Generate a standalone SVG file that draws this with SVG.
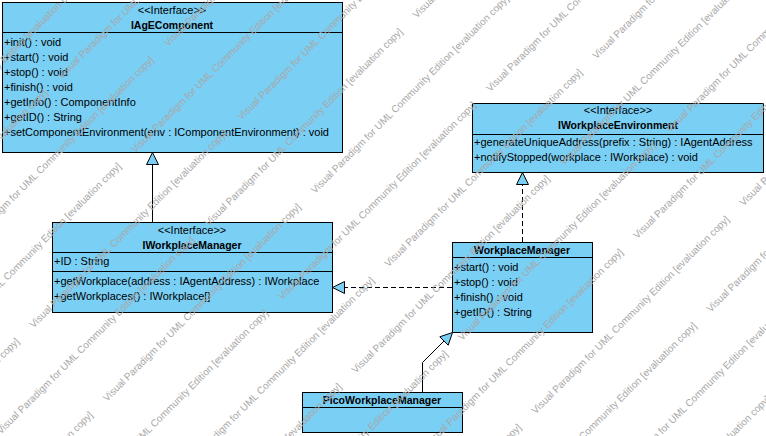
<svg xmlns="http://www.w3.org/2000/svg" width="766" height="436" viewBox="0 0 766 436">
<defs>
<style>
.box{fill:#7ACFF5;stroke:#000;stroke-width:1}
.sep{stroke:#000;stroke-width:1}
.t{font-family:"Liberation Sans",Arial,sans-serif;font-size:11px;fill:#000}
.b{font-weight:bold;font-size:10.5px}
.c{text-anchor:middle}
.edge{stroke:#000;stroke-width:1;fill:none}
.dash{stroke-dasharray:5,3}
.head{fill:#7ACFF5;stroke:#000;stroke-width:1}
.wm{font-family:"Liberation Sans",Arial,sans-serif;font-size:10px;fill:#a8a8a8}
</style>
</defs>
<rect width="766" height="436" fill="#fff"/>

<g id="IAgEComponent">
<rect class="box" x="2.5" y="2.5" width="340" height="150"/>
<line class="sep" x1="2.5" y1="32.5" x2="342.5" y2="32.5"/>
<text class="t c" x="172" y="14">&lt;&lt;Interface&gt;&gt;</text>
<text class="t b c" x="172" y="29">IAgEComponent</text>
<text class="t" x="4" y="46">+init() : void</text>
<text class="t" x="4" y="61">+start() : void</text>
<text class="t" x="4" y="76">+stop() : void</text>
<text class="t" x="4" y="91">+finish() : void</text>
<text class="t" x="4" y="106">+getInfo() : ComponentInfo</text>
<text class="t" x="4" y="121">+getID() : String</text>
<text class="t" x="4" y="136">+setComponentEnvironment(env : IComponentEnvironment) : void</text>
</g>

<g id="IWorkplaceEnvironment">
<rect class="box" x="472.5" y="103.5" width="291" height="69"/>
<line class="sep" x1="472.5" y1="134.5" x2="763.5" y2="134.5"/>
<text class="t c" x="618" y="114">&lt;&lt;Interface&gt;&gt;</text>
<text class="t b c" x="618" y="129">IWorkplaceEnvironment</text>
<text class="t" x="474" y="146">+generateUniqueAddress(prefix : String) : IAgentAddress</text>
<text class="t" x="474" y="161">+notifyStopped(workplace : IWorkplace) : void</text>
</g>

<g id="IWorkplaceManager">
<rect class="box" x="52.5" y="222.5" width="280" height="90"/>
<line class="sep" x1="52.5" y1="252.5" x2="332.5" y2="252.5"/>
<line class="sep" x1="52.5" y1="271.5" x2="332.5" y2="271.5"/>
<text class="t c" x="192" y="234">&lt;&lt;Interface&gt;&gt;</text>
<text class="t b c" x="192" y="249">IWorkplaceManager</text>
<text class="t" x="54" y="265">+ID : String</text>
<text class="t" x="54" y="285">+getWorkplace(address : IAgentAddress) : IWorkplace</text>
<text class="t" x="54" y="300">+getWorkplaces() : IWorkplace[]</text>
</g>

<g id="WorkplaceManager">
<rect class="box" x="452.5" y="242.5" width="140" height="90"/>
<line class="sep" x1="452.5" y1="257.5" x2="592.5" y2="257.5"/>
<text class="t b c" x="522" y="254">WorkplaceManager</text>
<text class="t" x="454" y="271">+start() : void</text>
<text class="t" x="454" y="286">+stop() : void</text>
<text class="t" x="454" y="301">+finish() : void</text>
<text class="t" x="454" y="316">+getID() : String</text>
</g>

<g id="PicoWorkplaceManager">
<rect class="box" x="302.5" y="392.5" width="160" height="40"/>
<line class="sep" x1="302.5" y1="407.5" x2="462.5" y2="407.5"/>
<text class="t b c" x="382" y="404">PicoWorkplaceManager</text>
</g>

<g id="connectors">
<line class="edge" x1="152.5" y1="222" x2="152.5" y2="164.5"/>
<polygon class="head" points="152.5,152.5 146.5,164.5 158.5,164.5"/>
<line class="edge dash" x1="522.5" y1="242" x2="522.5" y2="184.5"/>
<polygon class="head" points="522.5,172.5 516.5,184.5 528.5,184.5"/>
<line class="edge dash" x1="452" y1="287.5" x2="344.5" y2="287.5"/>
<polygon class="head" points="332.5,287.5 344.5,281.5 344.5,293.5"/>
<polyline class="edge" points="422.5,392 422.5,362.5 444,341"/>
<polygon class="head" points="452.5,332.5 439.8,336.8 448.2,345.2"/>
</g>

<g id="watermark" class="wm">
<text transform="translate(-113.5,181.5) rotate(-45)">Visual Paradigm for UML Community Edition [evaluation copy]</text>
<text transform="translate(-146.25,287.75) rotate(-45)">Visual Paradigm for UML Community Edition [evaluation copy]</text>
<text transform="translate(61.75,79.75) rotate(-45)">Visual Paradigm for UML Community Edition [evaluation copy]</text>
<text transform="translate(168,47) rotate(-45)">Visual Paradigm for UML Community Edition [evaluation copy]</text>
<text transform="translate(-40,255) rotate(-45)">Visual Paradigm for UML Community Edition [evaluation copy]</text>
<text transform="translate(135.25,153.25) rotate(-45)">Visual Paradigm for UML Community Edition [evaluation copy]</text>
<text transform="translate(-72.75,361.25) rotate(-45)">Visual Paradigm for UML Community Edition [evaluation copy]</text>
<text transform="translate(241.5,120.5) rotate(-45)">Visual Paradigm for UML Community Edition [evaluation copy]</text>
<text transform="translate(33.5,328.5) rotate(-45)">Visual Paradigm for UML Community Edition [evaluation copy]</text>
<text transform="translate(-174.5,536.5) rotate(-45)">Visual Paradigm for UML Community Edition [evaluation copy]</text>
<text transform="translate(208.75,226.75) rotate(-45)">Visual Paradigm for UML Community Edition [evaluation copy]</text>
<text transform="translate(0.75,434.75) rotate(-45)">Visual Paradigm for UML Community Edition [evaluation copy]</text>
<text transform="translate(416.75,18.75) rotate(-45)">Visual Paradigm for UML Community Edition [evaluation copy]</text>
<text transform="translate(315,194) rotate(-45)">Visual Paradigm for UML Community Edition [evaluation copy]</text>
<text transform="translate(107,402) rotate(-45)">Visual Paradigm for UML Community Edition [evaluation copy]</text>
<text transform="translate(-101,610) rotate(-45)">Visual Paradigm for UML Community Edition [evaluation copy]</text>
<text transform="translate(282.25,300.25) rotate(-45)">Visual Paradigm for UML Community Edition [evaluation copy]</text>
<text transform="translate(490.25,92.25) rotate(-45)">Visual Paradigm for UML Community Edition [evaluation copy]</text>
<text transform="translate(74.25,508.25) rotate(-45)">Visual Paradigm for UML Community Edition [evaluation copy]</text>
<text transform="translate(388.5,267.5) rotate(-45)">Visual Paradigm for UML Community Edition [evaluation copy]</text>
<text transform="translate(596.5,59.5) rotate(-45)">Visual Paradigm for UML Community Edition [evaluation copy]</text>
<text transform="translate(180.5,475.5) rotate(-45)">Visual Paradigm for UML Community Edition [evaluation copy]</text>
<text transform="translate(355.75,373.75) rotate(-45)">Visual Paradigm for UML Community Edition [evaluation copy]</text>
<text transform="translate(563.75,165.75) rotate(-45)">Visual Paradigm for UML Community Edition [evaluation copy]</text>
<text transform="translate(147.75,581.75) rotate(-45)">Visual Paradigm for UML Community Edition [evaluation copy]</text>
<text transform="translate(462,341) rotate(-45)">Visual Paradigm for UML Community Edition [evaluation copy]</text>
<text transform="translate(670,133) rotate(-45)">Visual Paradigm for UML Community Edition [evaluation copy]</text>
<text transform="translate(254,549) rotate(-45)">Visual Paradigm for UML Community Edition [evaluation copy]</text>
<text transform="translate(429.25,447.25) rotate(-45)">Visual Paradigm for UML Community Edition [evaluation copy]</text>
<text transform="translate(637.25,239.25) rotate(-45)">Visual Paradigm for UML Community Edition [evaluation copy]</text>
<text transform="translate(535.5,414.5) rotate(-45)">Visual Paradigm for UML Community Edition [evaluation copy]</text>
<text transform="translate(743.5,206.5) rotate(-45)">Visual Paradigm for UML Community Edition [evaluation copy]</text>
<text transform="translate(327.5,622.5) rotate(-45)">Visual Paradigm for UML Community Edition [evaluation copy]</text>
<text transform="translate(502.75,520.75) rotate(-45)">Visual Paradigm for UML Community Edition [evaluation copy]</text>
<text transform="translate(710.75,312.75) rotate(-45)">Visual Paradigm for UML Community Edition [evaluation copy]</text>
<text transform="translate(609,488) rotate(-45)">Visual Paradigm for UML Community Edition [evaluation copy]</text>
<text transform="translate(576.25,594.25) rotate(-45)">Visual Paradigm for UML Community Edition [evaluation copy]</text>
</g>
</svg>
